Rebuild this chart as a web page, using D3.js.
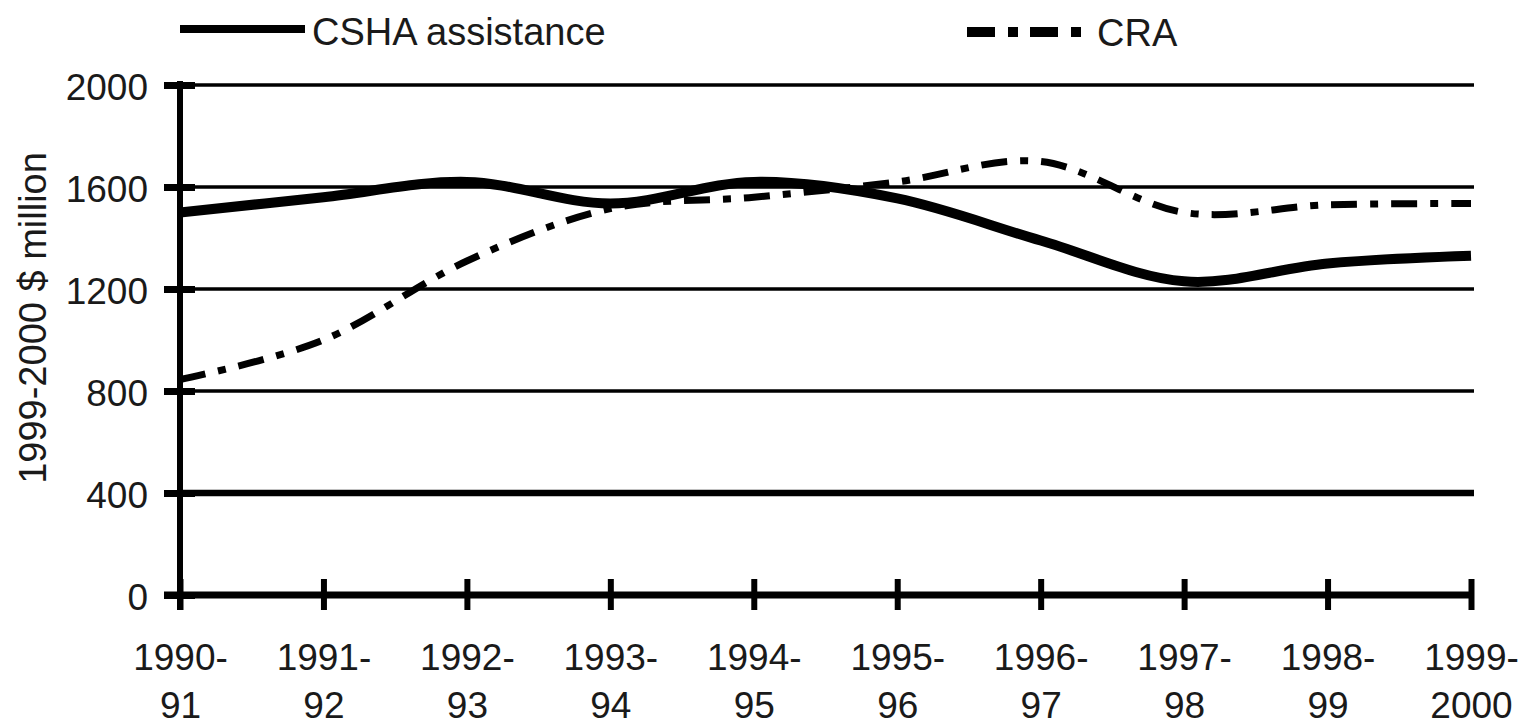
<!DOCTYPE html>
<html>
<head>
<meta charset="utf-8">
<script src="https://cdn.jsdelivr.net/npm/d3@7"></script>
<style>
  html, body { margin: 0; padding: 0; background: #fff; }
  svg { display: block; }
  text { font-family: "Liberation Sans", Arial, sans-serif; fill: #1a1a1a; }
</style>
</head>
<body>
<svg id="chart" width="1526" height="727"></svg>
<script>
const categories = ["1990-91","1991-92","1992-93","1993-94","1994-95","1995-96","1996-97","1997-98","1998-99","1999-2000"];
const cshaValues = [1500, 1560, 1620, 1535, 1620, 1555, 1390, 1230, 1300, 1330];
const craValues  = [845, 1000, 1310, 1515, 1560, 1620, 1700, 1500, 1530, 1535];
const yTicks = [0, 400, 800, 1200, 1600, 2000];
const seriesNames = ["CSHA assistance", "CRA"];

const svg = d3.select("#chart");
const pLeft = 180, pRight = 1471, pTop = 85, pBottom = 595;
const FONT = '"Liberation Sans", Arial, sans-serif';

const x = d3.scalePoint().domain(categories).range([pLeft, pRight]);
const y = d3.scaleLinear().domain([0, 2000]).range([pBottom, pTop]);

// Gridlines
svg.append("g").selectAll("line").data(yTicks.filter(d => d > 0)).join("line")
  .attr("x1", pLeft).attr("x2", 1474)
  .attr("y1", d => y(d)).attr("y2", d => y(d))
  .attr("stroke", "#000")
  .attr("stroke-width", d => d === 400 ? 6.5 : 3.5);

// Y axis
const yAxis = svg.append("g").attr("transform", `translate(${pLeft},0)`)
  .call(d3.axisLeft(y).tickValues(yTicks).tickFormat(d3.format("d")).tickSize(16).tickPadding(16).tickSizeOuter(0));
yAxis.select(".domain").remove();
yAxis.selectAll(".tick line").attr("stroke", "#000").attr("stroke-width", 7)
  .attr("x1", 15).attr("x2", -16);
yAxis.selectAll(".tick text").attr("font-size", 37).attr("dy", null)
  .attr("y", 14).attr("x", -32).attr("fill", "#1a1a1a")
  .style("font-family", FONT);
svg.append("line").attr("x1", pLeft).attr("x2", pLeft).attr("y1", pTop - 4).attr("y2", 610)
  .attr("stroke", "#000").attr("stroke-width", 6);

// X axis
svg.append("line").attr("x1", 164).attr("x2", 1474).attr("y1", pBottom).attr("y2", pBottom)
  .attr("stroke", "#000").attr("stroke-width", 7);
const xAxis = svg.append("g").attr("transform", `translate(0,${pBottom})`)
  .call(d3.axisBottom(x).tickSize(15).tickSizeOuter(0));
xAxis.select(".domain").remove();
xAxis.selectAll(".tick line").attr("stroke", "#000").attr("stroke-width", 6)
  .attr("y1", -16).attr("y2", 15);
xAxis.selectAll(".tick text").remove();
xAxis.selectAll(".tick").each(function(d) {
  const i = d.indexOf("-");
  const t = d3.select(this).append("text")
    .attr("text-anchor", "middle").attr("font-size", 37)
    .style("font-family", FONT).attr("fill", "#1a1a1a");
  t.append("tspan").attr("x", 0).attr("y", 75).text(d.slice(0, i + 1));
  t.append("tspan").attr("x", 0).attr("y", 123).text(d.slice(i + 1));
});

// Y title
svg.append("text")
  .attr("transform", "translate(46,318) rotate(-90)")
  .attr("text-anchor", "middle").attr("font-size", 38)
  .text("1999-2000 $ million");

// Lines
const line = d3.line().x((d, i) => x(categories[i])).y(d => y(d)).curve(d3.curveCardinal.tension(0));
svg.append("path").datum(craValues).attr("d", line)
  .attr("fill", "none").attr("stroke", "#000").attr("stroke-width", 7)
  .attr("stroke-dasharray", "26,13,8,13");
svg.append("path").datum(cshaValues).attr("d", line)
  .attr("fill", "none").attr("stroke", "#000").attr("stroke-width", 10);

// Legend
svg.append("line").attr("x1", 180).attr("x2", 305).attr("y1", 29).attr("y2", 29)
  .attr("stroke", "#000").attr("stroke-width", 8);
svg.append("text").attr("x", 312).attr("y", 45).attr("font-size", 38).text(seriesNames[0]);
svg.append("line").attr("x1", 967).attr("x2", 1082).attr("y1", 32).attr("y2", 32)
  .attr("stroke", "#000").attr("stroke-width", 10).attr("stroke-dasharray", "28,13,10,12");
svg.append("text").attr("x", 1097).attr("y", 46).attr("font-size", 38).text(seriesNames[1]);
</script>
</body>
</html>
